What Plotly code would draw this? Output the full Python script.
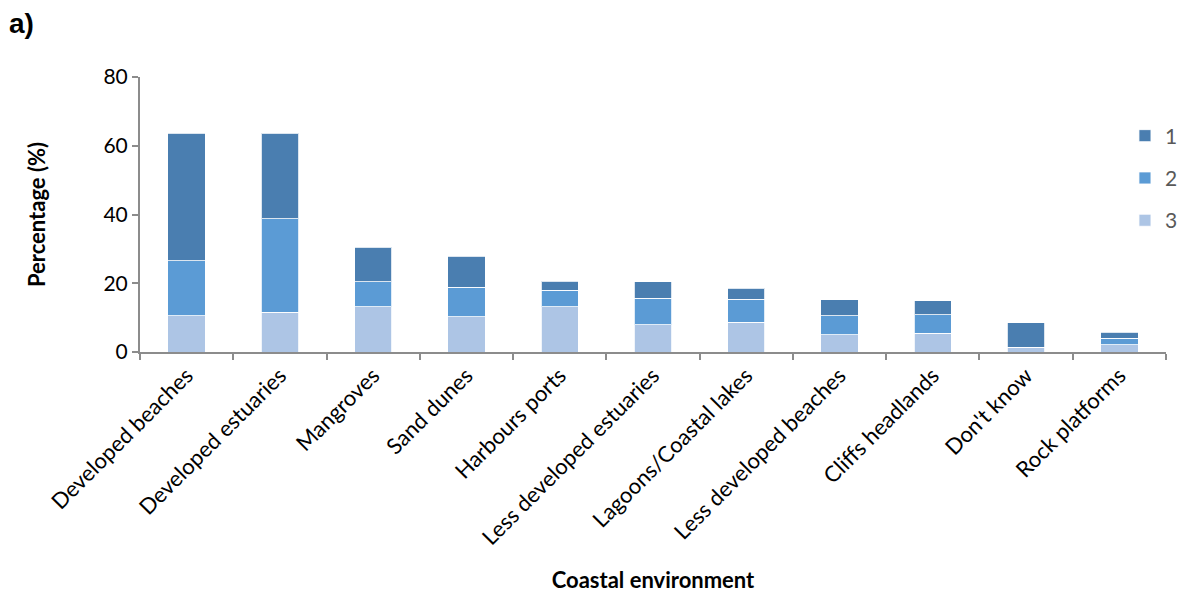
import plotly.graph_objects as go

categories = [
    "Developed beaches", "Developed estuaries", "Mangroves", "Sand dunes",
    "Harbours ports", "Less developed estuaries", "Lagoons/Coastal lakes",
    "Less developed beaches", "Cliffs headlands", "Don't know", "Rock platforms",
]
rank3 = [10.5, 11.6, 13.1, 10.2, 13.2, 8.0, 8.6, 5.0, 5.4, 1.4, 2.1]
rank2 = [16.1, 27.1, 7.4, 8.7, 4.7, 7.7, 6.7, 5.5, 5.5, 0.0, 1.9]
rank1 = [37.0, 24.9, 10.0, 8.9, 2.7, 4.7, 3.2, 4.7, 4.0, 7.1, 1.8]
y_ticks = [0, 20, 40, 60, 80]

FONT = "Lato, Open Sans, sans-serif"

fig = go.Figure()
# stacked bottom-to-top: 3, 2, 1; legend lists 1, 2, 3 from top
for name, vals, color, order in [
    ("3", rank3, "#ADC5E5", 3),
    ("2", rank2, "#5B9BD5", 2),
    ("1", rank1, "#4A7EB0", 1),
]:
    fig.add_trace(go.Bar(
        x=categories, y=vals, name=name, legendgroup=name, legendrank=order,
        marker=dict(color=color, line=dict(color="rgba(255,255,255,0.8)", width=1)),
    ))

fig.update_layout(
    barmode="stack",
    bargap=0.6,
    width=1192, height=602,
    margin=dict(l=140, r=9, t=77, b=250),
    paper_bgcolor="white", plot_bgcolor="white",
    font=dict(family=FONT, size=22, color="#000000"),
    showlegend=True,
    legend=dict(
        x=0.96, y=0.86, xanchor="left", yanchor="top",
        traceorder="grouped",
        font=dict(size=21, color="#595959"),
        itemwidth=30, tracegroupgap=12,
        bgcolor="rgba(0,0,0,0)",
    ),
)
fig.add_annotation(
    text="<b>a)</b>", xref="paper", yref="paper", x=-0.13, y=1.26,
    xanchor="left", yanchor="top", showarrow=False,
    font=dict(family="Liberation Sans, Arial", size=28, color="#000"),
)

fig.update_xaxes(
    type="category",
    showline=True, linecolor="#8C8C8C", linewidth=2,
    ticks="outside", tickson="boundaries", ticklen=6, tickcolor="#8C8C8C", tickwidth=2,
    tickangle=-45,
    tickfont=dict(family=FONT, size=22, color="#000"),
    title=dict(text="<b>Coastal environment</b>", font=dict(family=FONT, size=22), standoff=24),
    showgrid=False,
)
fig.update_yaxes(
    range=[0, 80], tickvals=y_ticks,
    showline=True, linecolor="#8C8C8C", linewidth=2,
    ticks="outside", ticklen=6, tickcolor="#8C8C8C", tickwidth=2,
    tickfont=dict(family=FONT, size=21, color="#000"),
    title=dict(text="<b>Percentage (%)</b>", font=dict(family=FONT, size=22), standoff=52),
    showgrid=False, zeroline=False,
)

fig.write_html("out.html")
